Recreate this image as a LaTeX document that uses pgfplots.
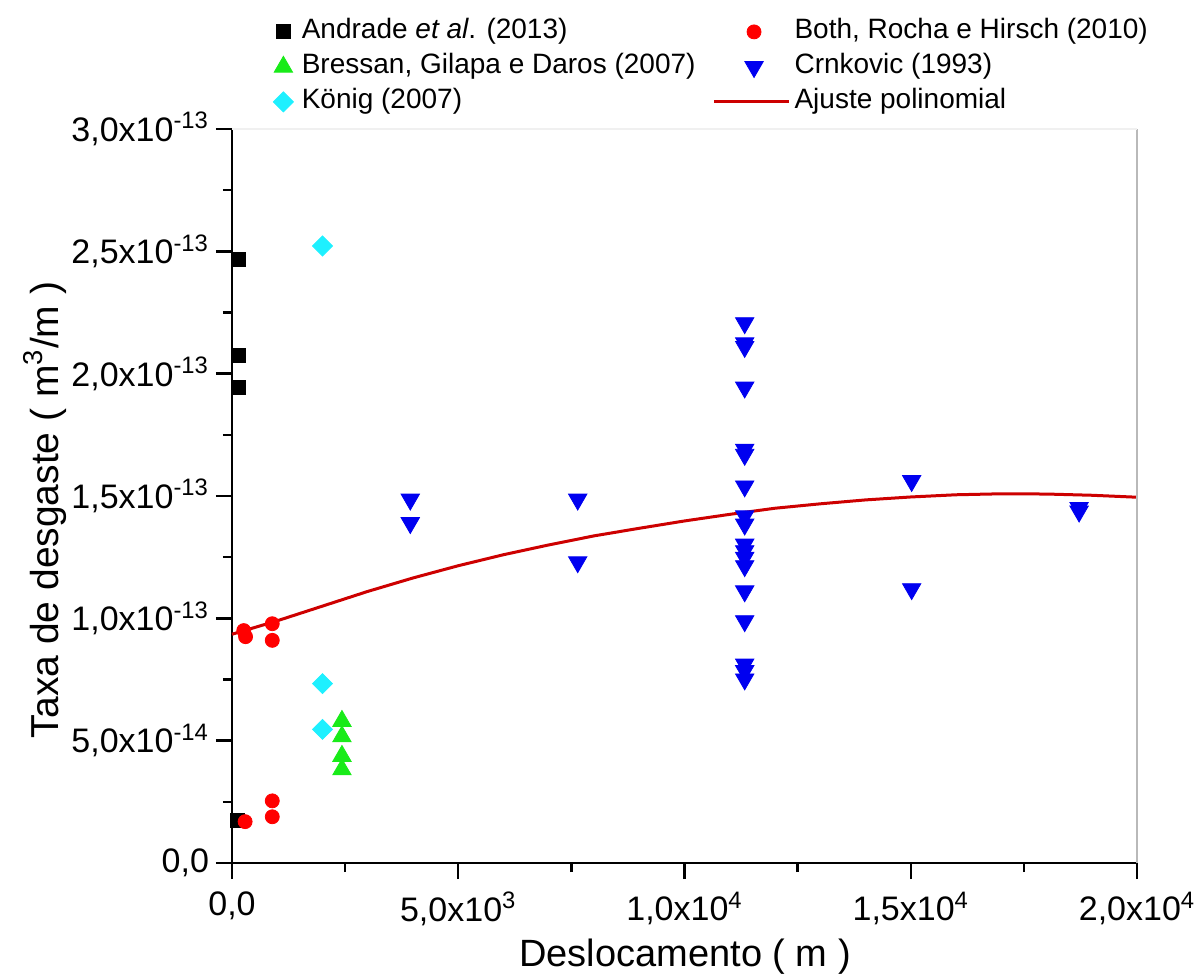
\documentclass[border=0pt]{standalone}
\usepackage{pgfplots}
\pgfplotsset{compat=1.18}
\usepackage{fontspec}
\setmainfont{Liberation Sans}
\definecolor{cblack}{RGB}{0,0,0}
\definecolor{cred}{RGB}{255,0,0}
\definecolor{cgreen}{RGB}{25,235,25}
\definecolor{cblue}{RGB}{0,0,240}
\definecolor{ccyan}{RGB}{30,240,255}
\definecolor{fitred}{RGB}{205,0,0}
\pgfplotsset{
  markleg/.style={legend image code/.code={\draw[opacity=0] (-5pt,0pt) -- (7pt,0pt);\draw[##1] plot coordinates {(0pt,0pt)};}},
  markleg2/.style={legend image code/.code={\draw[opacity=0] (-20pt,0pt) -- (17.5pt,0pt);\draw[##1] plot coordinates {(0pt,0pt)};}},
  lineleg/.style={legend image code/.code={\draw[##1] (-20pt,0pt) -- (17.5pt,0pt);}},
}
\begin{document}
\begin{tikzpicture}
\begin{axis}[
  scale only axis,
  width=452.5pt, height=367pt,
  xmin=0, xmax=20000, ymin=0, ymax=3e-13,
  axis lines*=left,
  axis line style={line width=1.2pt, black},
  tick style={line width=1.2pt, black},
  tick align=outside,
  major tick length=8pt,
  minor tick length=4.5pt,
  xtick={0,5000,10000,15000,20000},
  xticklabels={{0,0},{5,0x10\textsuperscript{3}},{1,0x10\textsuperscript{4}},{1,5x10\textsuperscript{4}},{2,0x10\textsuperscript{4}}},
  minor x tick num=1,
  ytick={0,0.5e-13,1e-13,1.5e-13,2e-13,2.5e-13,3e-13},
  yticklabels={{0,0},{5,0x10\textsuperscript{-14}},{1,0x10\textsuperscript{-13}},{1,5x10\textsuperscript{-13}},{2,0x10\textsuperscript{-13}},{2,5x10\textsuperscript{-13}},{3,0x10\textsuperscript{-13}}},
  minor y tick num=1,
  scaled y ticks=false, scaled x ticks=false,
  xticklabel style={font=\fontsize{17}{17}\selectfont, yshift=-3pt},
  yticklabel style={font=\fontsize{17}{17}\selectfont},
  xlabel={Deslocamento ( m )},
  ylabel={Taxa de desgaste ( m\textsuperscript{3}/m )},
  xlabel style={font=\fontsize{19}{19}\selectfont, at={(axis description cs:0.5006,-0.128)}, anchor=center},
  ylabel style={font=\fontsize{19.5}{19.5}\selectfont, at={(axis description cs:-0.2066,0.481)}, anchor=center},
  clip=false,
  legend columns=2,
  legend cell align=left,
  markleg,
  legend style={draw=none, fill=none, inner sep=0pt,
    font=\fontsize{14}{16}\selectfont,
    at={(rel axis cs:0,1)}, anchor=north west, xshift=20.3pt, yshift=57.5pt,
    nodes={inner xsep=2pt, inner ysep=2pt, text height=10pt, text depth=3.5pt},
    /tikz/every odd column/.append style={column sep=0pt},
    /tikz/every even column/.append style={column sep=6.5pt}},
]
% Andrade et al. (2013)
\addplot[only marks, mark=square*, mark size=3.5pt, color=cblack] coordinates {
 (150,2.468e-13) (150,2.073e-13) (150,1.942e-13) (130,0.176e-13)};
\addlegendentry{Andrade \textit{et al}. (2013)}
% Both, Rocha e Hirsch (2010)
\addplot[only marks, mark=*, mark size=3.5pt, color=cred, markleg2] coordinates {
 (260,0.950e-13) (300,0.925e-13) (890,0.978e-13) (890,0.910e-13)
 (290,0.169e-13) (890,0.254e-13) (890,0.189e-13)};
\addlegendentry{Both, Rocha e Hirsch (2010)}
% Bressan, Gilapa e Daros (2007)
\addplot[only marks, mark=triangle*, mark size=5.3pt, color=cgreen] coordinates {
 (2430,0.580e-13) (2430,0.517e-13) (2430,0.437e-13) (2430,0.382e-13)};
\addlegendentry{Bressan, Gilapa e Daros (2007)}
% Crnkovic (1993)
\addplot[only marks, mark=triangle*, mark size=5.3pt, mark options={rotate=180}, color=cblue, markleg2] coordinates {
 (3940,1.486e-13) (3940,1.390e-13) (7640,1.486e-13) (7640,1.230e-13)
 (11330,2.207e-13) (11330,2.125e-13) (11330,2.110e-13) (11330,1.944e-13)
 (11330,1.690e-13) (11330,1.669e-13) (11330,1.540e-13) (11330,1.418e-13)
 (11330,1.384e-13) (11330,1.302e-13) (11330,1.275e-13) (11330,1.248e-13)
 (11330,1.214e-13) (11330,1.111e-13) (11330,0.989e-13) (11330,0.812e-13)
 (11330,0.785e-13) (11330,0.751e-13)
 (15020,1.562e-13) (15020,1.120e-13) (18720,1.452e-13) (18720,1.437e-13)};
\addlegendentry{Crnkovic (1993)}
% König (2007)
\addplot[only marks, mark=square*, mark size=3.54pt, mark options={rotate=45}, color=ccyan] coordinates {
 (2000,2.522e-13) (2000,0.733e-13) (2000,0.546e-13)};
\addlegendentry{König (2007)}
% Ajuste polinomial
\addplot[color=fitred, line width=1.5pt, no marks, lineleg] coordinates {
 (0,0.935e-13) (1000,0.990e-13) (2000,1.050e-13) (3000,1.110e-13) (4000,1.165e-13)
 (5000,1.215e-13) (6000,1.260e-13) (7000,1.300e-13) (8000,1.337e-13) (9000,1.368e-13)
 (10000,1.398e-13) (11000,1.425e-13) (12000,1.450e-13) (13000,1.468e-13) (14000,1.484e-13)
 (15000,1.496e-13) (16000,1.505e-13) (17000,1.509e-13) (18000,1.508e-13) (19000,1.503e-13)
 (20000,1.495e-13)};
\addlegendentry{Ajuste polinomial}
\draw[gray!55, line width=0.8pt] (rel axis cs:1,0) -- (rel axis cs:1,1);
\draw[gray!12, line width=0.8pt] (rel axis cs:0,1) -- (rel axis cs:1,1);
\coordinate (sw) at (rel axis cs:0,0);
\coordinate (ne) at (rel axis cs:1,1);
\end{axis}
\pgfresetboundingbox
\path (sw) ++(-116pt,-57.5pt);
\path (ne) ++(30pt,64.5pt);
\end{tikzpicture}
\end{document}
